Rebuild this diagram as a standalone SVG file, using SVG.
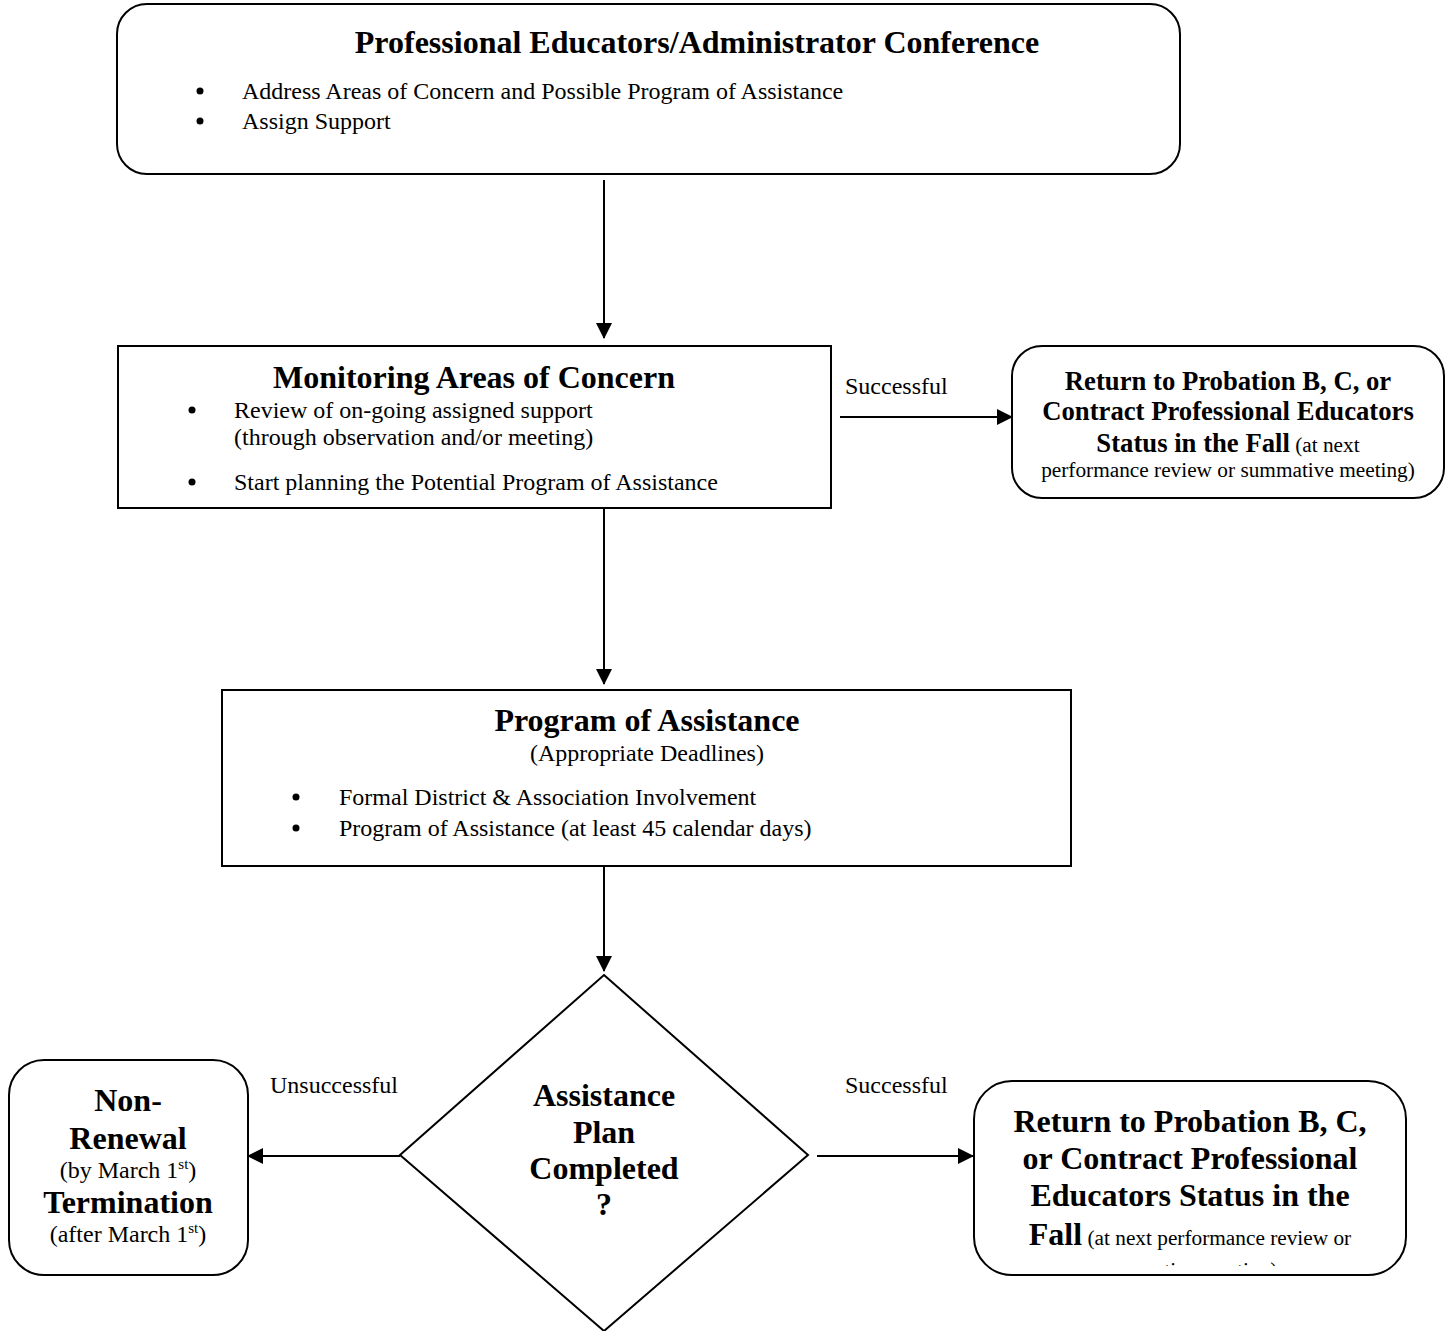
<svg xmlns="http://www.w3.org/2000/svg" width="1451" height="1331" viewBox="0 0 1451 1331">
<style>
.box{fill:#fff;stroke:#000;stroke-width:2}
.t{font-family:"Liberation Serif","Times New Roman",serif;fill:#000}
.b{font-weight:bold}
.c{text-anchor:middle}
.f32{font-size:32px}
.f27{font-size:26.7px}
.f24{font-size:24px}
.f21{font-size:21.3px}
.sup{font-size:15px}
.conn{stroke:#000;stroke-width:2;fill:none}
</style>
<defs>
<marker id="ah" markerUnits="userSpaceOnUse" markerWidth="16" markerHeight="16" viewBox="0 0 16 16" refX="15" refY="8" orient="auto">
<path d="M0,0 L16,8 L0,16 Z" fill="#000"/>
</marker>
<clipPath id="clipBR"><rect x="974" y="1081" width="432" height="185"/></clipPath>
</defs>

<g id="connectors">
<line class="conn" x1="604" y1="180" x2="604" y2="338" marker-end="url(#ah)"/>
<line class="conn" x1="840" y1="417" x2="1012" y2="417" marker-end="url(#ah)"/>
<line class="conn" x1="604" y1="508" x2="604" y2="684" marker-end="url(#ah)"/>
<line class="conn" x1="604" y1="866" x2="604" y2="971" marker-end="url(#ah)"/>
<line class="conn" x1="400" y1="1156" x2="248" y2="1156" marker-end="url(#ah)"/>
<line class="conn" x1="817" y1="1156" x2="973" y2="1156" marker-end="url(#ah)"/>
<text class="t f24" x="845" y="394">Successful</text>
<text class="t f24" x="270" y="1093">Unsuccessful</text>
<text class="t f24" x="845" y="1093">Successful</text>
</g>

<g id="conference">
<rect class="box" x="117" y="4" width="1063" height="170" rx="30"/>
<text class="t b f32 c" x="697" y="53">Professional Educators/Administrator Conference</text>
<circle cx="200" cy="91" r="3.5"/>
<text class="t f24" x="242" y="99">Address Areas of Concern and Possible Program of Assistance</text>
<circle cx="200" cy="121" r="3.5"/>
<text class="t f24" x="242" y="129">Assign Support</text>
</g>

<g id="monitoring">
<rect class="box" x="118" y="346" width="713" height="162"/>
<text class="t b f32 c" x="474" y="388">Monitoring Areas of Concern</text>
<circle cx="192" cy="410" r="3.5"/>
<text class="t f24" x="234" y="418">Review of on-going assigned support</text>
<text class="t f24" x="234" y="445">(through observation and/or meeting)</text>
<circle cx="192" cy="482" r="3.5"/>
<text class="t f24" x="234" y="490">Start planning the Potential Program of Assistance</text>
</g>

<g id="return-top">
<rect class="box" x="1012" y="346" width="432" height="152" rx="30"/>
<text class="t b f27 c" x="1228" y="390">Return to Probation B, C, or</text>
<text class="t b f27 c" x="1228" y="420">Contract Professional Educators</text>
<text class="t c" x="1228" y="452"><tspan class="b f27">Status in the Fall</tspan><tspan class="f21"> (at next</tspan></text>
<text class="t f21 c" x="1228" y="477">performance review or summative meeting)</text>
</g>

<g id="program">
<rect class="box" x="222" y="690" width="849" height="176"/>
<text class="t b f32 c" x="647" y="731">Program of Assistance</text>
<text class="t f24 c" x="647" y="761">(Appropriate Deadlines)</text>
<circle cx="296" cy="797" r="3.5"/>
<text class="t f24" x="339" y="805">Formal District &amp; Association Involvement</text>
<circle cx="296" cy="828" r="3.5"/>
<text class="t f24" x="339" y="836">Program of Assistance (at least 45 calendar days)</text>
</g>

<g id="decision">
<polygon class="box" points="604,975 808,1155 604,1331 400,1155"/>
<text class="t b f32 c" x="604" y="1106">Assistance</text>
<text class="t b f32 c" x="604" y="1143">Plan</text>
<text class="t b f32 c" x="604" y="1179">Completed</text>
<text class="t b f32 c" x="604" y="1215">?</text>
</g>

<g id="non-renewal">
<rect class="box" x="9" y="1060" width="239" height="215" rx="35"/>
<text class="t b f32 c" x="128" y="1111">Non-</text>
<text class="t b f32 c" x="128" y="1149">Renewal</text>
<text class="t f24 c" x="128" y="1178">(by March 1<tspan class="sup" dy="-9">st</tspan><tspan dy="9">)</tspan></text>
<text class="t b f32 c" x="128" y="1213">Termination</text>
<text class="t f24 c" x="128" y="1242">(after March 1<tspan class="sup" dy="-9">st</tspan><tspan dy="9">)</tspan></text>
</g>

<g id="return-bottom">
<rect class="box" x="974" y="1081" width="432" height="194" rx="38"/>
<text class="t b f32 c" x="1190" y="1132">Return to Probation B, C,</text>
<text class="t b f32 c" x="1190" y="1169">or Contract Professional</text>
<text class="t b f32 c" x="1190" y="1206">Educators Status in the</text>
<text class="t c" x="1190" y="1245"><tspan class="b f32">Fall</tspan><tspan class="f21"> (at next performance review or</tspan></text>
<text class="t f21 c" x="1190" y="1277" clip-path="url(#clipBR)">summative meeting)</text>
</g>
</svg>
